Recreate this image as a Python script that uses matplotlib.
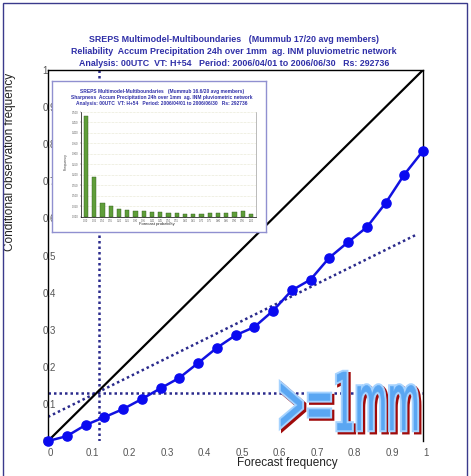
import numpy as np
import matplotlib
matplotlib.use("Agg")
import matplotlib.pyplot as plt
from matplotlib.patches import Rectangle, PathPatch
from matplotlib.textpath import TextPath
from matplotlib.font_manager import FontProperties
from matplotlib.transforms import Affine2D
import matplotlib.patheffects as pe

# ---- data -------------------------------------------------------------
forecast_freq = [0.00, 0.05, 0.10, 0.15, 0.20, 0.25, 0.30, 0.35, 0.40, 0.45, 0.50,
                 0.55, 0.60, 0.65, 0.70, 0.75, 0.80, 0.85, 0.90, 0.95, 1.00]
observed_freq = [0.000, 0.013, 0.043, 0.064, 0.086, 0.113, 0.142, 0.170, 0.210, 0.251, 0.285,
                 0.307, 0.351, 0.406, 0.435, 0.494, 0.536, 0.576, 0.641, 0.718, 0.782]
climatology = 0.13          # sample climate frequency
clim_forecast = 0.135       # forecast frequency at climatology crossing

sharp_bins = [0.00, 0.05, 0.10, 0.15, 0.20, 0.25, 0.30, 0.35, 0.40, 0.45, 0.50,
              0.55, 0.60, 0.65, 0.70, 0.75, 0.80, 0.85, 0.90, 0.95, 1.00]
sharp_freq = [0.479, 0.190, 0.067, 0.050, 0.040, 0.035, 0.030, 0.028, 0.025, 0.023, 0.020,
              0.017, 0.015, 0.015, 0.015, 0.017, 0.019, 0.020, 0.023, 0.027, 0.012]

tick_vals = [0, 0.1, 0.2, 0.3, 0.4, 0.5, 0.6, 0.7, 0.8, 0.9, 1]
tick_labels = ["0", "0.1", "0.2", "0.3", "0.4", "0.5", "0.6", "0.7", "0.8", "0.9", "1"]

title_lines = [
    "SREPS Multimodel-Multiboundaries   (Mummub 17/20 avg members)",
    "Reliability  Accum Precipitation 24h over 1mm  ag. INM pluviometric network",
    "Analysis: 00UTC  VT: H+54   Period: 2006/04/01 to 2006/06/30   Rs: 292736",
]
inset_title_lines = [
    "SREPS Multimodel-Multiboundaries   (Mummub 16.6/20 avg members)",
    "Sharpness  Accum Precipitation 24h over 1mm  ag. INM pluviometric network",
    "Analysis: 00UTC  VT: H+54   Period: 2006/04/01 to 2006/06/30   Rs: 292736",
]

# ---- figure -----------------------------------------------------------
W, H = 471, 476
DPI = 100
fig = plt.figure(figsize=(W / DPI, H / DPI), dpi=DPI, facecolor="white")
plt.rcParams["font.family"] = ["Liberation Sans", "DejaVu Sans"]


def fx(px):
    return px / W


def fy(py):
    return 1 - py / H


navy = "#2a2a8c"
title_blue = "#3030a8"
curve_blue = "#1212e0"

# main reliability axes
ax = fig.add_axes([fx(48), fy(441), fx(423) - fx(48), fy(70) - fy(441)])
ax.set_xlim(0, 1)
ax.set_ylim(0, 1)
ax.set_facecolor("white")
for side in ("left", "top", "right"):
    ax.spines[side].set_color("black")
    ax.spines[side].set_linewidth(1.0)
ax.spines["bottom"].set_visible(False)

ax.set_xticks(tick_vals)
ax.set_xticklabels(tick_labels)
ax.set_yticks(tick_vals)
ax.set_yticklabels(tick_labels)
ax.tick_params(axis="both", length=0, labelsize=7, colors="#555555")
ax.tick_params(axis="x", pad=5)
ax.tick_params(axis="y", pad=4)
for lab in ax.get_xticklabels():
    lab.set_horizontalalignment("left")
for lab in ax.get_yticklabels():
    lab.set_horizontalalignment("left")

dot_style = dict(color=navy, lw=1.8, linestyle=(0, (1, 1.2)), dash_capstyle="butt")

# perfect reliability diagonal
ax.plot([0, 1], [0, 1], color="black", lw=1.6, zorder=3)
# climatology lines
ax.plot([0, 1], [climatology, climatology], zorder=2, **dot_style)
ax.plot([clim_forecast, clim_forecast], [0, 1], zorder=2, **dot_style)
# no-skill line, halfway between climatology and the diagonal
xs = np.array([0.0, 0.985])
ax.plot(xs, (xs + climatology) / 2, zorder=2, **dot_style)

# reliability curve
ax.plot(forecast_freq, observed_freq, color=curve_blue, lw=1.8, marker="o",
        ms=6.6, mfc="#0a0af0", mec="#0a0af0", zorder=5, clip_on=False)

# titles and axis labels
for i, line in enumerate(title_lines):
    fig.text(fx(234), fy([40, 52, 63][i]), line, ha="center", va="center",
             fontsize=6.4, fontweight="bold", color=title_blue)
fig.text(fx(287), fy(463), "Forecast frequency", ha="center", va="center",
         fontsize=8.5, color="#222222")
fig.text(fx(10), fy(162), "Conditional observation frequency", ha="center",
         va="center", rotation=90, fontsize=8.5, color="#222222")

# ---- sharpness inset --------------------------------------------------
frame = fig.add_axes([fx(52), fy(232), fx(266) - fx(52), fy(81) - fy(232)])
frame.set_xticks([])
frame.set_yticks([])
frame.set_facecolor("white")
for s in frame.spines.values():
    s.set_color("#9090d0")
    s.set_linewidth(1.0)
frame.set_zorder(6)

for i, line in enumerate(inset_title_lines):
    fig.text(fx(162), fy([91, 97, 103][i]), line, ha="center", va="center",
             fontsize=3.5, fontweight="bold", color=title_blue, zorder=8)

bx = fig.add_axes([fx(81), fy(217), fx(256) - fx(81), fy(112) - fy(217)])
bx.set_zorder(7)
bx.set_facecolor("white")
pos = np.arange(len(sharp_bins))
bx.bar(pos, sharp_freq, width=0.5, color="#5f9e3a", edgecolor="#2f5a1c",
       linewidth=0.3, zorder=3)
bx.set_xlim(-0.6, len(sharp_bins) - 0.4)
bx.set_ylim(0, 0.5)
bx.set_yticks(np.arange(0, 0.501, 0.05))
bx.set_yticklabels([f"{v:.3f}" for v in np.arange(0, 0.501, 0.05)])
bx.set_xticks(pos)
bx.set_xticklabels([f"{v:.2f}" for v in sharp_bins])
bx.tick_params(axis="both", length=1, width=0.3, labelsize=1.8, pad=0.6,
               colors="#555555")
bx.yaxis.grid(True, color="#d0d0a8", lw=0.4, linestyle=(0, (1, 1.5)))
bx.set_axisbelow(True)
bx.spines["top"].set_visible(False)
bx.spines["right"].set_color("#a0a0a0")
bx.spines["right"].set_linewidth(0.5)
bx.spines["left"].set_linewidth(0.5)
bx.spines["bottom"].set_linewidth(0.5)
fig.text(fx(157), fy(224), "Forecast probability", ha="center", va="center",
         fontsize=3, color="#222222", zorder=8)
fig.text(fx(66), fy(162), "Frequency", ha="center", va="center", rotation=90,
         fontsize=2.6, color="#444444", zorder=8)

# ---- ">=1mm" label ----------------------------------------------------
tp = TextPath((0, 0), ">=1mm", size=1, prop=FontProperties(family="DejaVu Sans"))
ext = tp.get_extents()
x0, x1 = 281, 417          # pixel span of the lettering
ytop, ybot = 372, 430
sx = (fx(x1) - fx(x0)) / ext.width
sy = (fy(ytop) - fy(ybot)) / ext.height
tr = (Affine2D().translate(-ext.x0, -ext.y0).scale(sx, sy)
      .translate(fx(x0), fy(ybot)) + fig.transFigure)
label = PathPatch(tp, transform=tr, facecolor="#5aa6f2", edgecolor="#5aa6f2",
                  lw=0.4, zorder=10)
label.set_path_effects([
    pe.Stroke(offset=(1.6, -1.6), linewidth=3.2, foreground="#a00a0a"),
    pe.Stroke(linewidth=3.2, foreground="#a6d3ff"),
    pe.Normal(),
])
fig.add_artist(label)

# outer frame
fig.add_artist(Rectangle((fx(3), fy(482)), fx(467) - fx(3), fy(3) - fy(482),
                         transform=fig.transFigure, fill=False,
                         edgecolor="#3a3a8c", lw=1.0, zorder=20))

fig.savefig("out.png", dpi=DPI, facecolor="white")
